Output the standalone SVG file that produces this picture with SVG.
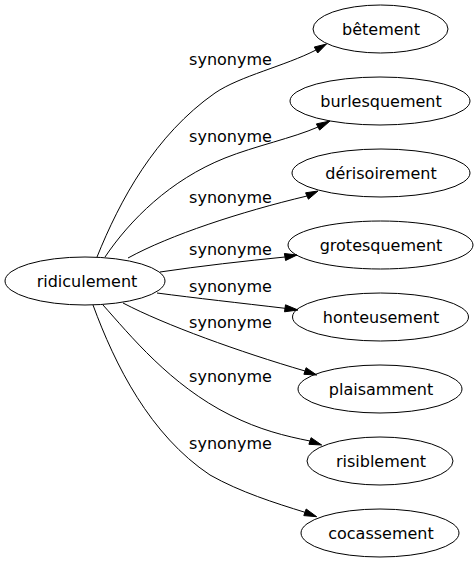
<svg xmlns="http://www.w3.org/2000/svg" width="476" height="563" viewBox="0 0 476 563">
<style>
.n ellipse{fill:none;stroke:#000;stroke-width:1}
.n text{font-family:"DejaVu Sans",sans-serif;font-size:16px;fill:#000;text-anchor:middle}
.e path{fill:none;stroke:#000;stroke-width:1}
.e polygon{fill:#000;stroke:#000;stroke-width:1}
.e text{font-family:"DejaVu Sans",sans-serif;font-size:16px;fill:#000;text-anchor:middle}
</style>
<rect width="476" height="563" fill="#fff"/>
<g id="edges" class="e">
<path d="M97,257 C120,200 155,135 215,93 C240,76 285,66 316,50"/>
<polygon points="317.7,53 326.5,44 314.3,47"/>
<text x="230.5" y="65">synonyme</text>
<path d="M105,257 C130,220 170,180 225,158 C255,146 293,138 318,127"/>
<polygon points="319.6,130.1 330,121 316.4,123.9"/>
<text x="230.5" y="142">synonyme</text>
<path d="M128,258 C170,235 240,212 307,196"/>
<polygon points="308.4,199.2 318,191 305.6,192.8"/>
<text x="230.5" y="203">synonyme</text>
<path d="M160,272 C200,266 245,261 285,257"/>
<polygon points="285.6,260.5 297,255 284.4,253.5"/>
<text x="230.5" y="255">synonyme</text>
<path d="M157,293 C195,298 240,303 285,308.3"/>
<polygon points="284.5,311.8 298,310 285.5,304.8"/>
<text x="230.5" y="292">synonyme</text>
<path d="M123,303 C165,325 240,352 305,371"/>
<polygon points="303.9,374.3 316.7,375 306.1,367.7"/>
<text x="230.5" y="328">synonyme</text>
<path d="M103,305 C130,335 170,385 230,415 C260,430 285,436 310,441"/>
<polygon points="308.9,444.3 321.7,445 311.1,437.7"/>
<text x="230.5" y="382">synonyme</text>
<path d="M93,305 C115,365 150,435 210,475 C240,492 275,503 305,512.3"/>
<polygon points="303.8,515.6 316.7,516.7 306.2,509"/>
<text x="230.5" y="449">synonyme</text>
</g>
<g id="ridiculement" class="n"><ellipse cx="85" cy="281" rx="80" ry="24"/><text x="87" y="287">ridiculement</text></g>
<g id="betement" class="n"><ellipse cx="380.5" cy="29" rx="67.5" ry="24"/><text x="381" y="35">bêtement</text></g>
<g id="burlesquement" class="n"><ellipse cx="380" cy="101" rx="90" ry="24"/><text x="381" y="107">burlesquement</text></g>
<g id="derisoirement" class="n"><ellipse cx="381" cy="173" rx="89" ry="24"/><text x="381" y="179">dérisoirement</text></g>
<g id="grotesquement" class="n"><ellipse cx="380.5" cy="245" rx="92.5" ry="24"/><text x="381" y="251">grotesquement</text></g>
<g id="honteusement" class="n"><ellipse cx="380.5" cy="317" rx="88" ry="24"/><text x="381" y="323">honteusement</text></g>
<g id="plaisamment" class="n"><ellipse cx="380" cy="389" rx="82" ry="24"/><text x="381" y="395">plaisamment</text></g>
<g id="risiblement" class="n"><ellipse cx="380" cy="461" rx="73" ry="24"/><text x="381" y="467">risiblement</text></g>
<g id="cocassement" class="n"><ellipse cx="380" cy="533" rx="79" ry="24"/><text x="381" y="539">cocassement</text></g>
</svg>
